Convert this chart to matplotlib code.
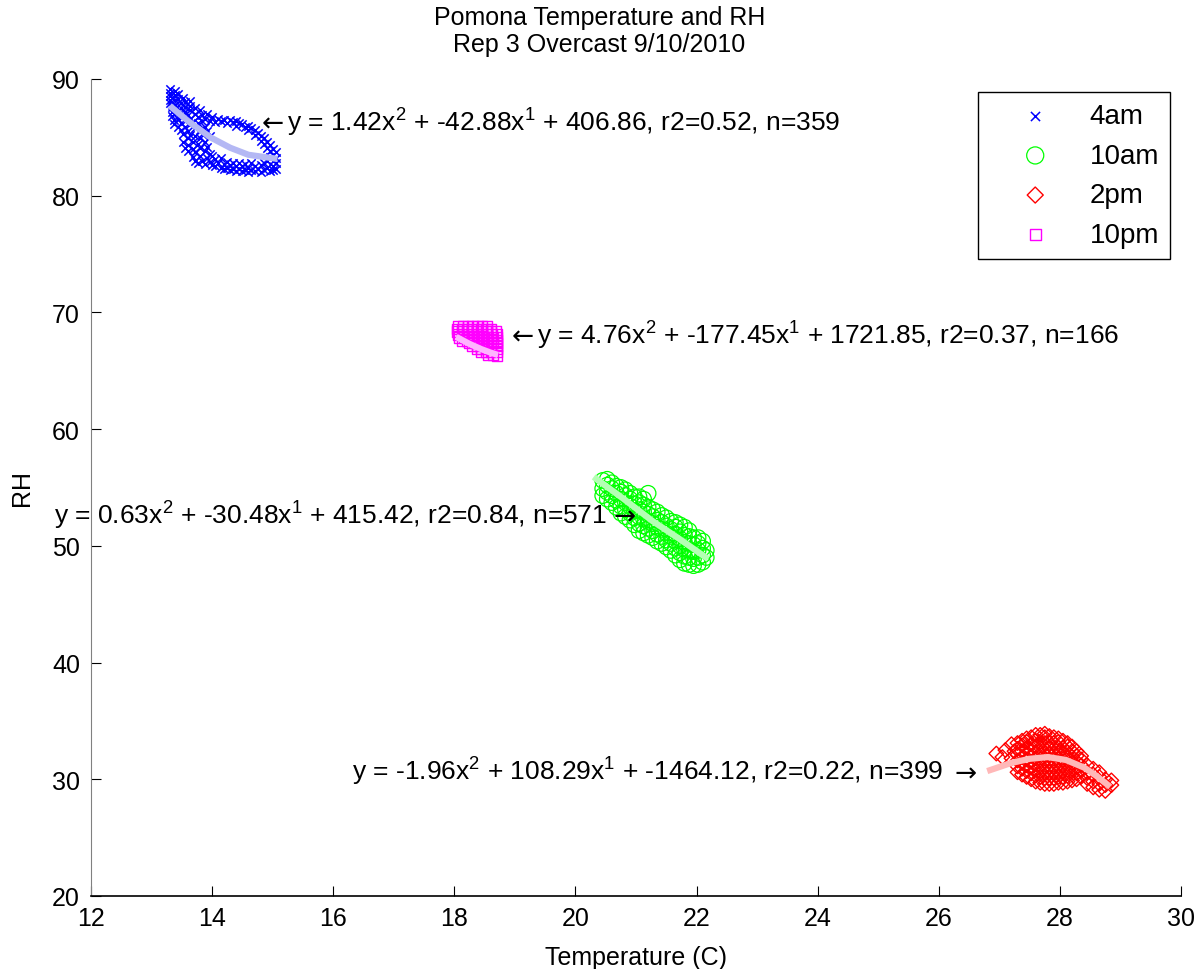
import numpy as np
import matplotlib
matplotlib.use("Agg")
import matplotlib.pyplot as plt
from matplotlib.transforms import offset_copy

plt.rcParams['font.family'] = ['Liberation Sans', 'DejaVu Sans']
plt.rcParams['mathtext.fontset'] = 'custom'
plt.rcParams['mathtext.rm'] = 'Liberation Sans'
plt.rcParams['mathtext.default'] = 'regular'

# --- data (temperature, [RH values]) ----------------------------------
cols_4am = [
    (13.30, [89.1, 88.8, 88.5, 88.2, 87.9]), (13.38, [89.0, 88.6, 88.2, 87.8, 87.4, 87.1]),
    (13.33, [87.6, 87.2, 86.8]), (13.37, [86.5, 86.1]), (13.44, [88.7, 88.3, 86.6, 85.9]),
    (13.48, [87.9, 87.5, 87.1, 86.2, 85.6]), (13.52, [88.4, 86.8, 85.3, 84.6]),
    (13.56, [88.0, 87.6, 87.2, 86.4, 85.9, 84.1]), (13.60, [86.9, 85.5, 84.9, 84.3, 83.8]),
    (13.64, [88.1, 87.7, 87.3, 86.6, 86.1, 85.2]), (13.68, [86.3, 84.6, 84.0, 83.3]),
    (13.72, [87.5, 87.0, 85.8, 85.1, 83.7, 83.0]), (13.76, [86.7, 86.2, 84.4, 82.8]),
    (13.80, [87.3, 85.6, 84.9, 84.1, 83.4]), (13.84, [86.9, 86.4, 85.3, 83.0]),
    (13.88, [86.6, 85.9, 84.6, 83.8, 82.7]), (13.92, [87.0, 85.5, 84.2, 83.2]),
    (13.96, [86.4, 85.1, 83.6, 82.9]), (14.00, [86.7, 83.4, 82.6]),
    (14.05, [86.3, 83.1, 82.5]), (14.10, [86.6, 82.8]), (14.15, [86.4, 83.2, 82.4]),
    (14.20, [86.5, 82.7, 82.3]), (14.25, [86.2, 82.9, 82.4]), (14.30, [86.5, 82.6, 82.2]),
    (14.35, [86.3, 82.8, 82.3]), (14.40, [86.4, 86.0, 82.5, 82.1]), (14.45, [86.2, 82.8, 82.3]),
    (14.50, [86.1, 82.5, 82.1]), (14.55, [85.9, 82.7, 82.2]), (14.60, [86.0, 85.6, 82.4, 82.0]),
    (14.65, [85.8, 82.8, 82.2]), (14.70, [85.6, 85.2, 82.5, 82.1]), (14.75, [85.4, 82.3]),
    (14.80, [85.1, 84.7, 82.6, 82.0]), (14.85, [84.9, 84.4, 82.8, 82.2]),
    (14.90, [84.6, 84.1, 83.0, 82.4]), (14.95, [84.3, 83.8, 83.3, 82.1]),
    (15.00, [84.0, 83.5, 83.0, 82.5, 82.2]), (15.05, [83.7, 83.2, 82.8, 82.3]),
]

cols_10am = [
    (20.450, [54.3, 54.9, 55.6]), (20.525, [54.0, 54.6, 55.2, 55.7]),
    (20.600, [53.7, 54.3, 54.9, 55.4]), (20.675, [53.3, 53.9, 54.5, 55.1]),
    (20.750, [52.8, 53.4, 54.0, 54.6, 55.0]), (20.825, [52.5, 53.1, 53.7, 54.3, 54.8]),
    (20.900, [52.2, 52.8, 53.4, 54.0, 54.5]), (20.975, [51.8, 52.4, 53.0, 53.6, 54.2]),
    (21.050, [51.3, 51.9, 52.5, 53.1, 53.7, 54.2]), (21.125, [51.1, 51.7, 52.3, 52.9, 53.5, 54.0]),
    (21.200, [50.9, 51.5, 52.1, 52.7, 53.3, 54.5]), (21.275, [50.7, 51.3, 51.9, 52.5, 53.1]),
    (21.350, [50.4, 51.0, 51.6, 52.2, 52.9]), (21.425, [50.2, 50.8, 51.4, 52.0, 52.6]),
    (21.500, [49.9, 50.5, 51.1, 51.7, 52.4]), (21.575, [49.6, 50.2, 50.8, 51.4, 52.1]),
    (21.650, [49.2, 49.8, 50.4, 51.0, 51.6, 52.0]), (21.725, [48.8, 49.4, 50.0, 50.6, 51.2, 51.8]),
    (21.800, [48.5, 49.1, 49.7, 50.3, 50.9, 51.6]), (21.875, [48.4, 49.0, 49.6, 50.2, 50.8, 51.3]),
    (21.950, [48.3, 48.9, 49.5, 50.1, 50.7]), (22.025, [48.4, 49.0, 49.6, 50.2, 50.7]),
    (22.100, [48.6, 49.2, 49.8, 50.4]), (22.160, [49.0, 49.6]),
]

cols_2pm = [
    (26.95, [32.2]), (27.05, [31.9]), (27.10, [32.5]), (27.20, [33.0, 31.8]), (27.25, [32.4]),
    (27.300, [30.6, 31.1, 31.6, 32.1, 32.6, 33.1]),
    (27.375, [30.4, 30.9, 31.4, 31.9, 32.4, 32.9, 33.3]),
    (27.450, [30.2, 30.7, 31.2, 31.7, 32.2, 32.7, 33.2, 33.5]),
    (27.525, [30.0, 30.5, 31.0, 31.5, 32.0, 32.5, 33.0, 33.6]),
    (27.600, [29.8, 30.3, 30.8, 31.3, 31.8, 32.3, 32.8, 33.3, 33.8]),
    (27.675, [29.7, 30.2, 30.7, 31.2, 31.7, 32.2, 32.7, 33.2, 33.8]),
    (27.750, [29.6, 30.1, 30.6, 31.1, 31.6, 32.1, 32.6, 33.1, 33.6, 33.9]),
    (27.825, [29.6, 30.1, 30.6, 31.1, 31.6, 32.1, 32.6, 33.1, 33.7]),
    (27.900, [29.6, 30.1, 30.6, 31.1, 31.6, 32.1, 32.6, 33.1, 33.6]),
    (27.975, [29.7, 30.2, 30.7, 31.2, 31.7, 32.2, 32.7, 33.2, 33.5]),
    (28.050, [29.7, 30.2, 30.7, 31.2, 31.7, 32.2, 32.7, 33.3]),
    (28.125, [29.8, 30.3, 30.8, 31.3, 31.8, 32.3, 32.8, 33.1]),
    (28.200, [29.9, 30.4, 30.9, 31.4, 31.9, 32.4, 32.8]),
    (28.275, [30.0, 30.5, 31.0, 31.5, 32.0, 32.4]),
    (28.350, [30.2, 30.7, 31.2, 31.7, 32.0]),
    (28.45, [29.6, 30.1, 30.6, 31.2]), (28.55, [29.3, 29.8, 30.4, 30.9]),
    (28.65, [29.1, 29.6, 30.2, 30.6]), (28.75, [29.0, 29.5, 30.0]), (28.85, [29.5, 29.9]),
]

cols_10pm = [
    (18.05, [68.6, 68.35]), (18.06, [68.85, 68.1]), (18.08, [67.85]),
    (18.13, [68.6, 68.35, 67.6]), (18.14, [68.85, 68.1]), (18.16, [67.85]),
    (18.21, [68.6, 68.35, 67.6]), (18.22, [68.85, 68.1]), (18.24, [67.85, 67.35]),
    (18.29, [68.6, 68.35, 67.6, 67.1]), (18.30, [68.85, 68.1]), (18.32, [67.85, 67.35]),
    (18.37, [68.6, 68.35, 67.6, 67.1, 66.85]), (18.38, [68.85, 68.1]), (18.40, [67.85, 67.35]),
    (18.45, [68.6, 68.35, 67.6, 67.1, 66.85, 66.6]), (18.46, [68.85, 68.1]), (18.48, [67.85, 67.35]),
    (18.53, [68.6, 68.35, 67.6, 67.1, 66.85, 66.6]), (18.54, [68.8, 68.1]), (18.56, [67.85, 67.35, 66.4]),
    (18.61, [68.6, 68.35, 67.6, 67.1, 66.85, 66.6]), (18.62, [68.1]), (18.64, [67.85, 67.35, 66.35]),
    (18.69, [68.35]), (18.70, [68.1, 67.85, 67.6, 67.35, 67.1, 66.85, 66.6, 66.3]),
]

# fitted curves as drawn
fit_x_4am = [13.3, 13.6, 13.97, 14.3, 14.6, 15.08]
fit_y_4am = [87.7, 86.4, 85.0, 84.1, 83.5, 83.15]
fit_x_10am = [20.3, 20.8, 21.27, 21.7, 22.19]
fit_y_10am = [55.9, 54.0, 52.13, 50.65, 48.87]
fit_x_2pm = [26.8, 27.2, 27.5, 27.8, 28.1, 28.4, 28.6, 28.83]
fit_y_2pm = [30.7, 31.4, 31.75, 31.9, 31.65, 31.0, 30.3, 29.35]
fit_x_10pm = [18.03, 18.25, 18.44, 18.6, 18.72]
fit_y_10pm = [67.9, 67.3, 66.86, 66.55, 66.35]

labels = ['4am', '10am', '2pm', '10pm']
eq_4am = r'y = 1.42x$^{2}$ + -42.88x$^{1}$ + 406.86, r2=0.52, n=359'
eq_10am = r'y = 0.63x$^{2}$ + -30.48x$^{1}$ + 415.42, r2=0.84, n=571'
eq_2pm = r'y = -1.96x$^{2}$ + 108.29x$^{1}$ + -1464.12, r2=0.22, n=399'
eq_10pm = r'y = 4.76x$^{2}$ + -177.45x$^{1}$ + 1721.85, r2=0.37, n=166'


def expand(cols):
    xs, ys = [], []
    for t, rhs in cols:
        for r in rhs:
            xs.append(t)
            ys.append(r)
    return xs, ys


# --- figure ---------------------------------------------------------
fig = plt.figure(figsize=(11.99, 9.70), dpi=100)
ax = fig.add_axes([0.0759, 0.0753, 0.9091, 0.8423])

x, y = expand(cols_4am)
h1 = ax.scatter(x, y, s=36, marker='x', color='#0000ff', linewidths=1.1, label=labels[0])
x, y = expand(cols_10am)
h2 = ax.scatter(x, y, s=125, marker='o', facecolors='none', edgecolors='#00ff00',
                linewidths=0.9, label=labels[1])
x, y = expand(cols_2pm)
h3 = ax.scatter(x, y, s=55, marker='D', facecolors='none', edgecolors='#ff0000',
                linewidths=1.0, label=labels[2])
x, y = expand(cols_10pm)
h4 = ax.scatter(x, y, s=55, marker='s', facecolors='none', edgecolors='#ff00ff',
                linewidths=1.0, label=labels[3])

ax.plot(fit_x_4am, fit_y_4am, color='#b4b8f4', lw=4.5, solid_capstyle='butt')
ax.plot(fit_x_10am, fit_y_10am, color='#b4ffb4', lw=4.5, solid_capstyle='butt')
ax.plot(fit_x_2pm, fit_y_2pm, color='#ffb8b8', lw=4.5, solid_capstyle='butt')
ax.plot(fit_x_10pm, fit_y_10pm, color='#ffb4ff', lw=4.5, solid_capstyle='butt')

fs = 18
efs = 19.0


def label_left(tx, ty, s):
    ax.text(tx, ty, '←', fontsize=efs, family='DejaVu Sans', ha='left', va='baseline')
    tr = offset_copy(ax.transData, fig=fig, x=18.5, y=0, units='points')
    ax.text(tx, ty, s, fontsize=efs, ha='left', va='baseline', transform=tr)


def label_right(tx, ty, s, gap):
    ax.text(tx, ty, '→', fontsize=efs, family='DejaVu Sans', ha='right', va='baseline')
    tr = offset_copy(ax.transData, fig=fig, x=-gap, y=0, units='points')
    ax.text(tx, ty, s, fontsize=efs, ha='right', va='baseline', transform=tr, clip_on=False)


label_left(14.82, 85.6, eq_4am)
label_left(18.94, 67.3, eq_10pm)
label_right(21.0, 51.9, eq_10am, 21)
label_right(26.63, 29.93, eq_2pm, 24)

ax.set_xlim(12, 30)
ax.set_ylim(20, 90)
ax.set_xticks(range(12, 31, 2))
ax.set_yticks(range(20, 91, 10))
ax.tick_params(direction='in', length=7, labelsize=fs, color='black')
ax.tick_params(axis='x', pad=7)
ax.tick_params(axis='y', pad=8)
ax.spines['top'].set_visible(False)
ax.spines['right'].set_visible(False)
ax.spines['left'].set_color('#808080')
ax.spines['bottom'].set_linewidth(1.2)

ax.set_xlabel('Temperature (C)', fontsize=fs, labelpad=11)
ax.set_ylabel('RH', fontsize=fs, labelpad=13)

fig.text(0.5, 1 - 18 / 970, 'Pomona Temperature and RH', fontsize=fs, ha='center', va='center')
fig.text(0.5, 1 - 45 / 970, 'Rep 3 Overcast 9/10/2010', fontsize=fs, ha='center', va='center')

leg = ax.legend(handles=[h1, h2, h3, h4], loc='upper right',
                bbox_to_anchor=(1170 / 1199, 1 - 93 / 970), bbox_transform=fig.transFigure,
                fontsize=20, frameon=True, fancybox=False, framealpha=1,
                borderpad=0.4, handlelength=3.3, handletextpad=0.3,
                labelspacing=0.49, borderaxespad=0, scatterpoints=1, markerscale=1.1)
leg.get_frame().set_edgecolor('black')
leg.get_frame().set_linewidth(1.0)

fig.savefig('out.png', dpi=100)
